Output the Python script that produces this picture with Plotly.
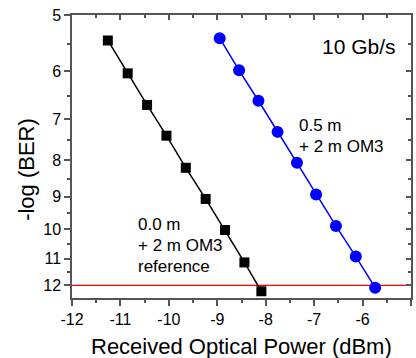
import numpy as np
import plotly.graph_objects as go

# Data
ref_x = [-11.26, -10.85, -10.45, -10.05, -9.65, -9.24, -8.84, -8.44, -8.09]
ref_y = [5.43, 6.04, 6.69, 7.39, 8.20, 9.07, 10.03, 11.14, 12.23]
om3_x = [-8.95, -8.55, -8.15, -7.755, -7.355, -6.96, -6.55, -6.14, -5.74]
om3_y = [5.39, 5.98, 6.60, 7.30, 8.07, 8.94, 9.90, 10.93, 12.09]
thr_x = [-12, -5]
thr_y = [12, 12]

x_ticks = [-12, -11, -10, -9, -8, -7, -6, -5]
x_minor = [-11.5, -10.5, -9.5, -8.5, -7.5, -6.5, -5.5]
y_ticks = [5, 6, 7, 8, 9, 10, 11, 12]
y_minor = [5.5, 6.5, 7.5, 8.5, 9.5, 10.5, 11.5]

x_range = [-12, -5]
y_range = [np.log10(12.5), np.log10(5)]

FONT = "Liberation Sans, Arial, sans-serif"
AX = "#555555"

fig = go.Figure()
fig.add_trace(go.Scatter(x=thr_x, y=thr_y, mode="lines",
                         line=dict(color="#ff0000", width=1.3), showlegend=False))
fig.add_trace(go.Scatter(x=ref_x, y=ref_y, mode="lines+markers",
                         line=dict(color="black", width=1.5),
                         marker=dict(symbol="square", size=10, color="black"),
                         showlegend=False))
fig.add_trace(go.Scatter(x=om3_x, y=om3_y, mode="lines+markers",
                         line=dict(color="#0000ff", width=1.5),
                         marker=dict(symbol="circle", size=12, color="#0000ff"),
                         showlegend=False))
fig.add_trace(go.Scatter(x=[], y=[], xaxis="x2", yaxis="y2", showlegend=False,
                         hoverinfo="skip"))

common_tick = dict(showline=True, linecolor=AX, linewidth=1.5, tickcolor=AX,
                   tickwidth=1.5, showgrid=False, zeroline=False)

fig.update_layout(
    width=416, height=358,
    margin=dict(l=72, r=5, t=15, b=60),
    paper_bgcolor="white", plot_bgcolor="white",
    font=dict(family=FONT, size=16, color="black"),
    xaxis=dict(range=x_range, tickmode="array", tickvals=x_ticks,
               ticktext=[str(v) for v in x_ticks],
               ticks="outside", ticklen=6,
               minor=dict(tickmode="array", tickvals=x_minor, ticks="outside",
                          ticklen=3, tickcolor=AX, tickwidth=1.5),
               tickfont=dict(size=16), **common_tick),
    yaxis=dict(type="log", range=y_range, tickmode="array", tickvals=y_ticks,
               ticktext=[str(v) for v in y_ticks],
               ticks="outside", ticklen=6,
               minor=dict(tickmode="array", tickvals=y_minor, ticks="outside",
                          ticklen=3, tickcolor=AX, tickwidth=1.5),
               tickfont=dict(size=16), **common_tick),
    xaxis2=dict(overlaying="x", side="top", range=x_range, tickmode="array",
                tickvals=x_ticks, showticklabels=False, ticks="inside", ticklen=5,
                minor=dict(tickmode="array", tickvals=x_minor, ticks="inside",
                           ticklen=3, tickcolor=AX, tickwidth=1.5),
                **common_tick),
    yaxis2=dict(overlaying="y", side="right", type="log", range=y_range,
                tickmode="array", tickvals=y_ticks, showticklabels=False,
                ticks="inside", ticklen=5,
                minor=dict(tickmode="array", tickvals=y_minor, ticks="inside",
                           ticklen=3, tickcolor=AX, tickwidth=1.5),
                **common_tick),
)

annos = [
    dict(text="Received Optical Power (dBm)", x=0.5, y=-0.173, xanchor="center",
         yanchor="middle", font=dict(size=22)),
    dict(text="-log (BER)", x=-0.133, y=0.456, xanchor="center", yanchor="middle",
         textangle=-90, font=dict(size=22)),
    dict(text="10 Gb/s", x=0.962, y=0.890, xanchor="right", yanchor="middle",
         font=dict(size=21)),
    dict(text="0.5 m", x=0.664, y=0.608, xanchor="left", yanchor="middle",
         font=dict(size=17)),
    dict(text="+ 2 m OM3", x=0.664, y=0.534, xanchor="left", yanchor="middle",
         font=dict(size=17)),
    dict(text="0.0 m", x=0.189, y=0.261, xanchor="left", yanchor="middle",
         font=dict(size=17)),
    dict(text="+ 2 m OM3", x=0.189, y=0.184, xanchor="left", yanchor="middle",
         font=dict(size=17)),
    dict(text="reference", x=0.189, y=0.113, xanchor="left", yanchor="middle",
         font=dict(size=17)),
]
for a in annos:
    fig.add_annotation(xref="paper", yref="paper", showarrow=False, **a)

fig.write_html("out.html")
